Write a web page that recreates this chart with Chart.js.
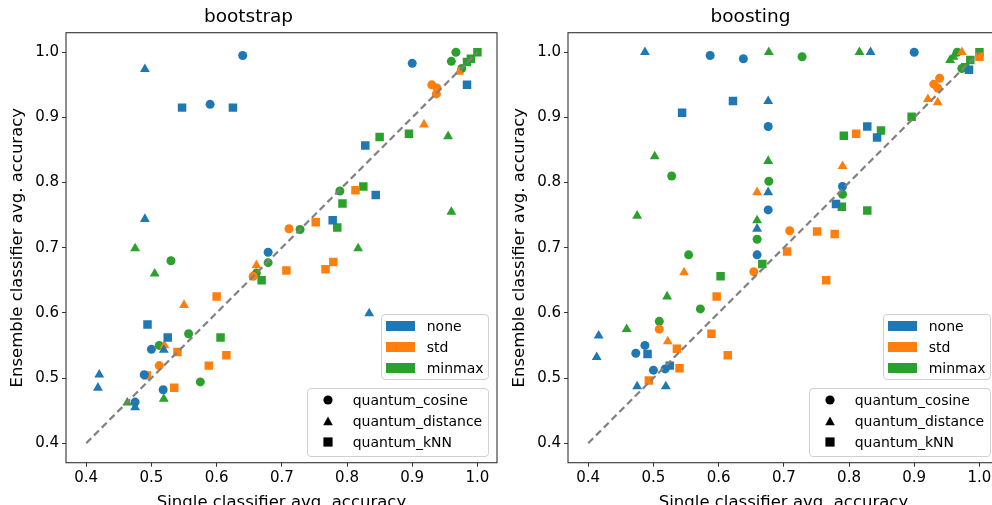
<!DOCTYPE html>
<html>
<head>
<meta charset="utf-8">
<script src="https://cdn.jsdelivr.net/npm/chart.js@4.4.0/dist/chart.umd.min.js"></script>
<style>
  html, body { margin: 0; padding: 0; background: #fff; }
  #fig { position: relative; width: 992px; height: 505px; overflow: hidden; font-family: 'DejaVu Sans', sans-serif; }
  #fig canvas { position: absolute; top: 0; }
  .leg { position: absolute; box-sizing: border-box; background: rgba(255,255,255,0.8); border: 1px solid #d0d0d0; border-radius: 4px; }
  .leg .it { position: absolute; height: 18px; line-height: 18px; font-size: 14px; color: #000; white-space: nowrap; }
  .leg .patch { position: absolute; width: 29px; height: 10px; }
  .leg svg { position: absolute; }
</style>
</head>
<body>
<div id="fig">
  <canvas id="c1" width="563" height="525" style="left:0px"></canvas>
  <canvas id="c2" width="563" height="525" style="left:502px"></canvas>
</div>
<script>
// tick labels + names
const xTicks = [0.4, 0.5, 0.6, 0.7, 0.8, 0.9, 1.0];
const yTicks = [0.4, 0.5, 0.6, 0.7, 0.8, 0.9, 1.0];
const scalers = ['none', 'std', 'minmax'];
const classifiers = ['quantum_cosine', 'quantum_distance', 'quantum_kNN'];
const colors = ['#1f77b4', '#ff7f0e', '#2ca02c'];
const markers = ['circle', 'triangle', 'rect'];
const diagX = [0.4, 1.0];
const diagY = [0.4, 1.0];

// bootstrap: [single acc, ensemble acc]
const bootNoneCos = [[0.640,0.995],[0.590,0.920],[0.900,0.983],[0.679,0.693],[0.500,0.544],[0.489,0.505],[0.518,0.482],[0.475,0.463]];
const bootNoneDist = [[0.490,0.974],[0.490,0.744],[0.834,0.599],[0.519,0.543],[0.420,0.505],[0.418,0.485],[0.475,0.455]];
const bootNoneKnn = [[0.547,0.915],[0.625,0.915],[0.984,0.950],[0.828,0.857],[0.844,0.781],[0.778,0.742],[0.494,0.582],[0.525,0.562]];
const bootStdCos = [[0.930,0.950],[0.938,0.945],[0.937,0.936],[0.711,0.729],[0.656,0.656],[0.512,0.519]];
const bootStdDist = [[0.972,0.970],[0.918,0.889],[0.661,0.673],[0.550,0.612],[0.520,0.550]];
const bootStdKnn = [[0.813,0.788],[0.752,0.739],[0.707,0.665],[0.767,0.667],[0.779,0.678],[0.600,0.625],[0.540,0.540],[0.615,0.535],[0.588,0.519],[0.493,0.504],[0.535,0.485]];
const bootMinCos = [[0.967,1.000],[0.960,0.986],[0.976,0.975],[0.789,0.787],[0.728,0.728],[0.530,0.680],[0.679,0.677],[0.661,0.661],[0.557,0.568],[0.512,0.550],[0.575,0.494]];
const bootMinDist = [[0.955,0.871],[0.960,0.755],[0.475,0.699],[0.817,0.699],[0.505,0.660],[0.519,0.468],[0.463,0.462]];
const bootMinKnn = [[1.000,1.000],[0.990,0.990],[0.984,0.985],[0.850,0.870],[0.895,0.875],[0.825,0.794],[0.793,0.768],[0.785,0.731],[0.669,0.650],[0.606,0.562]];

// boosting
const boostNoneCos = [[0.587,0.995],[0.638,0.990],[0.900,1.000],[0.676,0.886],[0.790,0.794],[0.676,0.758],[0.659,0.689],[0.487,0.550],[0.473,0.538],[0.500,0.512],[0.518,0.514]];
const boostNoneDist = [[0.487,1.000],[0.833,1.000],[0.676,0.925],[0.676,0.785],[0.659,0.729],[0.416,0.565],[0.413,0.532],[0.475,0.487],[0.519,0.487]];
const boostNoneKnn = [[0.622,0.925],[0.544,0.907],[0.828,0.886],[0.843,0.869],[0.780,0.767],[0.984,0.973],[0.491,0.537],[0.525,0.519]];
const boostStdCos = [[0.939,0.960],[0.930,0.951],[0.936,0.945],[0.709,0.726],[0.654,0.663],[0.509,0.575]];
const boostStdDist = [[0.973,1.000],[0.921,0.928],[0.936,0.923],[0.790,0.825],[0.659,0.785],[0.547,0.662],[0.522,0.556]];
const boostStdKnn = [[1.000,0.993],[0.811,0.875],[0.751,0.725],[0.778,0.721],[0.705,0.694],[0.765,0.650],[0.597,0.625],[0.589,0.568],[0.614,0.535],[0.536,0.545],[0.540,0.515],[0.493,0.496]];
const boostMinCos = [[0.728,0.993],[0.966,1.000],[0.973,0.975],[0.528,0.810],[0.677,0.802],[0.790,0.782],[0.659,0.713],[0.554,0.689],[0.572,0.606],[0.509,0.587]];
const boostMinDist = [[0.677,1.000],[0.816,1.000],[0.955,0.988],[0.960,0.993],[0.502,0.840],[0.676,0.833],[0.475,0.749],[0.659,0.742],[0.521,0.625],[0.459,0.575]];
const boostMinKnn = [[1.000,1.000],[0.986,0.988],[0.978,0.977],[0.896,0.901],[0.849,0.880],[0.792,0.872],[0.789,0.763],[0.828,0.757],[0.667,0.675],[0.603,0.656]];

const bootstrapSets = [[bootNoneCos, bootNoneDist, bootNoneKnn], [bootStdCos, bootStdDist, bootStdKnn], [bootMinCos, bootMinDist, bootMinKnn]];
const boostingSets = [[boostNoneCos, boostNoneDist, boostNoneKnn], [boostStdCos, boostStdDist, boostStdKnn], [boostMinCos, boostMinDist, boostMinKnn]];

Chart.defaults.font.family = "'DejaVu Sans', sans-serif";
Chart.defaults.color = '#000';

const pointRadius = { circle: 4.5, triangle: 5.7, rect: 6.0 };

// box round the plot area, like matplotlib spines
const frame = {
  id: 'frame',
  afterDatasetsDraw(chart) {
    const { ctx, chartArea: a } = chart;
    ctx.save();
    ctx.strokeStyle = '#333';
    ctx.lineWidth = 1.1;
    ctx.strokeRect(a.left, a.top, a.right - a.left, a.bottom - a.top);
    ctx.restore();
  }
};

function makeChart(id, title, sets) {
  const datasets = [{
    data: diagX.map((x, i) => ({ x: x, y: diagY[i] })),
    showLine: true,
    borderColor: '#808080',
    borderWidth: 2.2,
    borderDash: [7, 4],
    pointRadius: 0,
    order: -1
  }];
  sets.forEach((row, si) => {
    row.forEach((pts, ci) => {
      datasets.push({
        label: scalers[si] + ' ' + classifiers[ci],
        data: pts.map(p => ({ x: p[0], y: p[1] })),
        pointStyle: markers[ci],
        pointRadius: pointRadius[markers[ci]],
        pointBackgroundColor: colors[si],
        pointBorderWidth: 0,
        showLine: false
      });
    });
  });

  const gridOpts = { drawOnChartArea: false, drawTicks: true, tickLength: 4, color: '#333', lineWidth: 1 };

  return new Chart(document.getElementById(id), {
    type: 'scatter',
    data: { datasets: datasets },
    options: {
      responsive: false,
      animation: false,
      devicePixelRatio: 1,
      layout: { padding: { left: 0, right: 66, top: 0, bottom: 0 } },
      plugins: {
        legend: { display: false },
        tooltip: { enabled: false },
        title: {
          display: true,
          text: title,
          color: '#000',
          font: { size: 18.5, weight: 'normal' },
          padding: { top: 6, bottom: 4.5 }
        }
      },
      scales: {
        x: {
          type: 'linear',
          min: 0.369,
          max: 1.03,
          afterBuildTicks: s => { s.ticks = xTicks.map(v => ({ value: v })); },
          afterFit: s => { s.height = 62.3; },
          ticks: { font: { size: 15 }, color: '#000', padding: 2, maxRotation: 0, autoSkip: false, callback: v => v.toFixed(1) },
          grid: gridOpts,
          border: { display: false },
          title: { display: true, text: 'Single classifier avg. accuracy', color: '#000', font: { size: 16.5 }, padding: { top: 0, bottom: 12 } }
        },
        y: {
          type: 'linear',
          min: 0.37,
          max: 1.03,
          afterBuildTicks: s => { s.ticks = yTicks.map(v => ({ value: v })); },
          afterFit: s => { s.width = 66; },
          ticks: { font: { size: 15 }, color: '#000', padding: 3, autoSkip: false, callback: v => v.toFixed(1) },
          grid: gridOpts,
          border: { display: false },
          title: { display: true, text: 'Ensemble classifier avg. accuracy', color: '#000', font: { size: 16.5 }, padding: { top: 8, bottom: 0 } }
        }
      }
    },
    plugins: [frame]
  });
}

makeChart('c1', 'bootstrap', bootstrapSets);
makeChart('c2', 'boosting', boostingSets);

// legends (two boxes per panel)
function markerSvg(kind) {
  let shape;
  if (kind === 'circle') shape = '<circle cx="6" cy="6" r="4.6" fill="#000"/>';
  else if (kind === 'triangle') shape = '<polygon points="6,1.4 10.8,10.3 1.2,10.3" fill="#000"/>';
  else shape = '<rect x="1.4" y="1.4" width="9.2" height="9.2" fill="#000"/>';
  return '<svg width="12" height="12" viewBox="0 0 12 12">' + shape + '</svg>';
}

function addLegends(offsetX) {
  const fig = document.getElementById('fig');

  const l1 = document.createElement('div');
  l1.className = 'leg';
  Object.assign(l1.style, { left: (381 + offsetX) + 'px', top: '314px', width: '108px', height: '66px' });
  scalers.forEach((name, i) => {
    const cy = 11.7 + i * 20.7;
    const p = document.createElement('div');
    p.className = 'patch';
    Object.assign(p.style, { left: '4px', top: (cy - 5.5) + 'px', background: colors[i] });
    l1.appendChild(p);
    const t = document.createElement('div');
    t.className = 'it';
    Object.assign(t.style, { left: '44.7px', top: (cy - 9.5) + 'px' });
    t.textContent = name;
    l1.appendChild(t);
  });
  fig.appendChild(l1);

  const l2 = document.createElement('div');
  l2.className = 'leg';
  Object.assign(l2.style, { left: (307 + offsetX) + 'px', top: '388px', width: '182px', height: '69px' });
  classifiers.forEach((name, i) => {
    const cy = 11 + i * 21.2;
    const m = document.createElement('div');
    m.innerHTML = markerSvg(markers[i]);
    const svg = m.firstChild;
    Object.assign(svg.style, { left: '13.7px', top: (cy - 6) + 'px' });
    l2.appendChild(svg);
    const t = document.createElement('div');
    t.className = 'it';
    Object.assign(t.style, { left: '44.7px', top: (cy - 9.5) + 'px' });
    t.textContent = name;
    l2.appendChild(t);
  });
  fig.appendChild(l2);
}

addLegends(0);
addLegends(502);
</script>
</body>
</html>
